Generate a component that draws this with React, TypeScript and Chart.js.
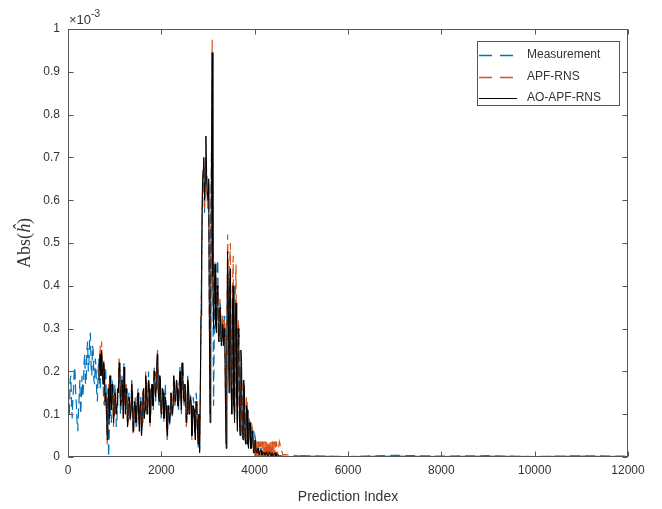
import React, { useEffect, useRef } from 'react';
import { Chart, registerables } from 'chart.js';

Chart.register(...registerables);

// Prediction-index spacing of the sampled series
const STEP = 15;

// All values in units of 1e-3 (the axis carries the "×10^-3" multiplier)
const measurementStart = 0;
const measurement = [
  0.17, 0.12, 0.10, 0.18, 0.19, 0.13, 0.09, 0.14, 0.16, 0.21, 0.20, 0.15, 0.12, 0.08, 0.06, 0.11, 0.14, 0.18, 0.10, 0.13,
  0.19, 0.14, 0.16, 0.22, 0.24, 0.17, 0.18, 0.25, 0.27, 0.20, 0.22, 0.28, 0.29, 0.21, 0.19, 0.26, 0.25, 0.18, 0.17, 0.23,
  0.21, 0.15, 0.13, 0.20, 0.23, 0.17, 0.16, 0.24, 0.25, 0.19, 0.18, 0.13, 0.12, 0.21, 0.20, 0.11, 0.09, 0.16, 0.00, 0.06,
  0.15, 0.10, 0.08, 0.18, 0.16, 0.11, 0.12, 0.17, 0.15, 0.07, 0.09, 0.14, 0.16, 0.21, 0.20, 0.10, 0.12, 0.19, 0.17, 0.11,
  0.22, 0.16, 0.12, 0.17, 0.15, 0.08, 0.10, 0.15, 0.13, 0.10, 0.12, 0.18, 0.16, 0.06, 0.08, 0.13, 0.14, 0.09, 0.07, 0.12,
  0.16, 0.11, 0.07, 0.12, 0.14, 0.05, 0.08, 0.14, 0.13, 0.09, 0.11, 0.18, 0.16, 0.10, 0.12, 0.20, 0.17, 0.08, 0.10, 0.15,
  0.17, 0.12, 0.11, 0.21, 0.19, 0.13, 0.15, 0.23, 0.25, 0.16, 0.12, 0.19, 0.18, 0.09, 0.11, 0.16, 0.15, 0.10, 0.12, 0.17,
  0.13, 0.07, 0.04, 0.11, 0.10, 0.07, 0.09, 0.15, 0.13, 0.09, 0.12, 0.19, 0.17, 0.12, 0.14, 0.18, 0.16, 0.13, 0.11, 0.17,
  0.21, 0.15, 0.10, 0.22, 0.20, 0.14, 0.12, 0.17, 0.15, 0.07, 0.09, 0.19, 0.17, 0.11, 0.13, 0.15, 0.12, 0.05, 0.08, 0.14,
  0.12, 0.07, 0.04, 0.15, 0.13, 0.06, 0.02, 0.10, 0.01, 0.15, 0.32, 0.45, 0.60, 0.66, 0.68, 0.57, 0.62, 0.70, 0.67, 0.60,
  0.58, 0.64, 0.35, 0.10, 0.55, 0.70, 0.88, 0.40, 0.12, 0.30, 0.42, 0.33, 0.30, 0.45, 0.46, 0.31, 0.28, 0.36, 0.35, 0.27,
  0.30, 0.33, 0.26, 0.31, 0.33, 0.15, 0.03, 0.25, 0.46, 0.38, 0.20, 0.42, 0.40, 0.18, 0.12, 0.33, 0.36, 0.15, 0.10, 0.28,
  0.30, 0.14, 0.08, 0.27, 0.25, 0.09, 0.05, 0.21, 0.19, 0.06, 0.07, 0.16, 0.15, 0.05, 0.03, 0.12, 0.11, 0.03, 0.04, 0.09,
  0.08, 0.03, 0.02, 0.07, 0.06, 0.01, 0.01, 0.05, 0.04, 0.01, 0.01, 0.03, 0.03, 0.00, 0.00, 0.02, 0.02, 0.00, 0.01, 0.01,
  0.01, 0.00, 0.00, 0.01, 0.01, 0.00, 0.00, 0.01, 0.01, 0.00, 0.00, 0.005, 0.005, 0.00, 0.00, 0.01, 0.01, 0.00, 0.00, 0.005,
];

const filterStart = 660;
const apfRns = [
  0.19, 0.23, 0.26, 0.19, 0.27, 0.21, 0.17, 0.23, 0.20, 0.12, 0.15, 0.10, 0.03, 0.12, 0.17, 0.09,
  0.19, 0.13, 0.11, 0.17, 0.15, 0.07, 0.10, 0.15, 0.14, 0.10, 0.12, 0.16, 0.15, 0.23, 0.21, 0.12, 0.13, 0.18, 0.16, 0.09,
  0.21, 0.15, 0.10, 0.17, 0.15, 0.07, 0.09, 0.14, 0.13, 0.08, 0.11, 0.17, 0.15, 0.05, 0.08, 0.13, 0.12, 0.08, 0.09, 0.14,
  0.15, 0.10, 0.06, 0.12, 0.13, 0.05, 0.08, 0.15, 0.16, 0.09, 0.11, 0.20, 0.17, 0.10, 0.12, 0.18, 0.16, 0.07, 0.10, 0.15,
  0.17, 0.12, 0.12, 0.21, 0.19, 0.14, 0.16, 0.23, 0.25, 0.15, 0.13, 0.19, 0.18, 0.10, 0.11, 0.16, 0.15, 0.08, 0.11, 0.14,
  0.12, 0.06, 0.04, 0.12, 0.11, 0.08, 0.10, 0.15, 0.14, 0.10, 0.12, 0.19, 0.17, 0.13, 0.14, 0.18, 0.16, 0.12, 0.12, 0.17,
  0.20, 0.15, 0.11, 0.22, 0.19, 0.14, 0.13, 0.17, 0.15, 0.07, 0.10, 0.18, 0.17, 0.10, 0.12, 0.14, 0.12, 0.04, 0.08, 0.12,
  0.11, 0.06, 0.04, 0.13, 0.12, 0.06, 0.03, 0.10, 0.01, 0.14, 0.31, 0.46, 0.61, 0.66, 0.69, 0.58, 0.62, 0.70, 0.64, 0.60,
  0.58, 0.63, 0.32, 0.10, 0.36, 0.72, 0.975, 0.44, 0.32, 0.40, 0.46, 0.33, 0.30, 0.42, 0.40, 0.28, 0.28, 0.37, 0.33, 0.27,
  0.30, 0.33, 0.27, 0.32, 0.30, 0.13, 0.03, 0.27, 0.52, 0.40, 0.18, 0.45, 0.50, 0.17, 0.13, 0.40, 0.47, 0.14, 0.10, 0.38,
  0.45, 0.16, 0.07, 0.32, 0.30, 0.09, 0.06, 0.20, 0.19, 0.06, 0.05, 0.17, 0.16, 0.05, 0.04, 0.14, 0.13, 0.04, 0.03, 0.09,
  0.08, 0.03, 0.03, 0.07, 0.06, 0.01, 0.037, 0.00, 0.037, 0.00, 0.036, 0.00, 0.037, 0.00, 0.036, 0.00, 0.037, 0.00, 0.036, 0.00,
  0.037, 0.00, 0.036, 0.00, 0.037, 0.00, 0.036, 0.00, 0.037, 0.00, 0.036, 0.00, 0.037, 0.00, 0.036, 0.00, 0.037, 0.00, 0.036, 0.00,
];

const aoApfRns = [
  0.18, 0.22, 0.24, 0.19, 0.25, 0.21, 0.17, 0.22, 0.20, 0.13, 0.15, 0.10, 0.04, 0.12, 0.16, 0.09,
  0.19, 0.13, 0.11, 0.17, 0.15, 0.08, 0.10, 0.15, 0.14, 0.10, 0.12, 0.16, 0.15, 0.22, 0.20, 0.12, 0.13, 0.18, 0.16, 0.09,
  0.21, 0.15, 0.10, 0.16, 0.15, 0.07, 0.09, 0.14, 0.13, 0.09, 0.11, 0.17, 0.15, 0.06, 0.08, 0.13, 0.12, 0.08, 0.09, 0.14,
  0.15, 0.10, 0.06, 0.12, 0.13, 0.05, 0.08, 0.15, 0.16, 0.09, 0.11, 0.19, 0.17, 0.10, 0.12, 0.18, 0.16, 0.08, 0.10, 0.15,
  0.17, 0.12, 0.12, 0.20, 0.19, 0.14, 0.16, 0.22, 0.24, 0.15, 0.13, 0.19, 0.18, 0.10, 0.11, 0.16, 0.15, 0.09, 0.11, 0.14,
  0.12, 0.07, 0.05, 0.12, 0.11, 0.08, 0.10, 0.15, 0.14, 0.10, 0.12, 0.19, 0.17, 0.13, 0.14, 0.18, 0.16, 0.12, 0.12, 0.17,
  0.20, 0.15, 0.11, 0.22, 0.19, 0.14, 0.13, 0.17, 0.15, 0.08, 0.10, 0.18, 0.17, 0.10, 0.12, 0.14, 0.12, 0.05, 0.08, 0.12,
  0.11, 0.06, 0.04, 0.13, 0.12, 0.06, 0.03, 0.10, 0.01, 0.15, 0.33, 0.48, 0.63, 0.67, 0.70, 0.60, 0.64, 0.75, 0.66, 0.62,
  0.60, 0.65, 0.30, 0.08, 0.35, 0.70, 0.945, 0.42, 0.30, 0.38, 0.45, 0.31, 0.29, 0.40, 0.38, 0.27, 0.27, 0.35, 0.32, 0.26,
  0.28, 0.31, 0.26, 0.30, 0.28, 0.12, 0.02, 0.25, 0.48, 0.36, 0.15, 0.40, 0.44, 0.16, 0.10, 0.35, 0.40, 0.12, 0.08, 0.33,
  0.36, 0.14, 0.06, 0.30, 0.28, 0.08, 0.05, 0.25, 0.22, 0.05, 0.04, 0.18, 0.16, 0.04, 0.03, 0.12, 0.11, 0.03, 0.02, 0.08,
  0.08, 0.02, 0.02, 0.06, 0.05, 0.01, 0.01, 0.04, 0.03, 0.01, 0.01, 0.02, 0.02, 0.005, 0.005, 0.015, 0.015, 0.005, 0.005, 0.01,
  0.01, 0.005, 0.004, 0.012, 0.01, 0.003, 0.004, 0.01, 0.012, 0.004, 0.003, 0.01, 0.01, 0.003, 0.003, 0.008, 0.01, 0.002, 0.003, 0.006,
];

// Sparse tail (index > 4500), everything is practically zero there
const tailIndex = [4530, 4600, 4700, 5000, 6000, 7000, 8000, 9000, 10000, 11000, 12000];
const measurementTail = [0.000, 0.004, 0.000, 0.003, 0.001, 0.004, 0.002, 0.003, 0.001, 0.003, 0.002];
const apfTail = [0.036, 0.006, 0.005, 0.002, 0.001, 0.002, 0.001, 0.002, 0.001, 0.002, 0.001];
const aoTail = [0.003, 0.002, 0.001, 0.001, 0.001, 0.001, 0.001, 0.001, 0.001, 0.001, 0.001];

const xTicks = [0, 2000, 4000, 6000, 8000, 10000, 12000];
const yTicks = [0, 0.1, 0.2, 0.3, 0.4, 0.5, 0.6, 0.7, 0.8, 0.9, 1];

const seriesNames = ['Measurement', 'APF-RNS', 'AO-APF-RNS'];
const seriesColors = ['#0072BD', '#D95319', '#000000'];
const DASH = [10, 5];

function toPoints(start: number, vals: number[], tIdx: number[], tVals: number[]) {
  const pts = vals.map((v, i) => ({ x: start + i * STEP, y: v }));
  tIdx.forEach((x, i) => pts.push({ x, y: tVals[i] }));
  return pts;
}

const FONT = "'Liberation Sans', Arial, sans-serif";
const TEXT = '#333333';

const matlabFrame = {
  id: 'matlabFrame',
  afterDatasetsDraw(chart: any) {
    const { ctx, chartArea: a, scales } = chart;
    const L = Math.round(a.left) + 0.5;
    const R = Math.round(a.right) - 0.5;
    const T = Math.round(a.top) + 0.5;
    const B = Math.round(a.bottom) - 0.5;
    ctx.save();
    ctx.strokeStyle = '#555555';
    ctx.lineWidth = 1;
    ctx.setLineDash([]);
    ctx.strokeRect(L, T, R - L, B - T);
    const tl = 5;
    ctx.beginPath();
    xTicks.forEach((v) => {
      const px = Math.round(scales.x.getPixelForValue(v)) + 0.5;
      ctx.moveTo(px, B); ctx.lineTo(px, B - tl);
      ctx.moveTo(px, T); ctx.lineTo(px, T + tl);
    });
    yTicks.forEach((v) => {
      const py = Math.round(scales.y.getPixelForValue(v)) + 0.5;
      ctx.moveTo(L, py); ctx.lineTo(L + tl, py);
      ctx.moveTo(R, py); ctx.lineTo(R - tl, py);
    });
    ctx.stroke();

    // exponent label
    ctx.fillStyle = TEXT;
    ctx.textBaseline = 'alphabetic';
    ctx.textAlign = 'left';
    ctx.font = `13px ${FONT}`;
    const base = '\u00d710';
    ctx.fillText(base, a.left + 1, a.top - 5);
    const w = ctx.measureText(base).width;
    ctx.font = `10px ${FONT}`;
    ctx.fillText('-3', a.left + 1 + w, a.top - 12);

    // x title
    ctx.font = `14px ${FONT}`;
    ctx.textAlign = 'center';
    ctx.textBaseline = 'middle';
    ctx.fillText('Prediction Index', (a.left + a.right) / 2, 497);

    // y title (serif, italic h with hat)
    ctx.save();
    ctx.translate(25, (a.top + a.bottom) / 2);
    ctx.rotate(-Math.PI / 2);
    const serif = "'Liberation Serif', 'DejaVu Serif', serif";
    const p1 = 'Abs(';
    const p2 = '\u0125';
    const p3 = ')';
    const fs = 18;
    ctx.font = `${fs}px ${serif}`;
    const w1 = ctx.measureText(p1).width;
    const w3 = ctx.measureText(p3).width;
    ctx.font = `italic ${fs}px ${serif}`;
    const w2 = ctx.measureText(p2).width;
    const total = w1 + w2 + w3;
    let x0 = -total / 2;
    ctx.textAlign = 'left';
    ctx.font = `${fs}px ${serif}`;
    ctx.fillText(p1, x0, 0);
    x0 += w1;
    ctx.font = `italic ${fs}px ${serif}`;
    ctx.fillText(p2, x0, 0);
    x0 += w2;
    ctx.font = `${fs}px ${serif}`;
    ctx.fillText(p3, x0, 0);
    ctx.restore();

    // legend
    const lx = 477.5, ly = 41.5, lw = 142, lh = 64;
    ctx.fillStyle = '#ffffff';
    ctx.fillRect(lx, ly, lw, lh);
    ctx.strokeStyle = '#555555';
    ctx.lineWidth = 1;
    ctx.strokeRect(lx, ly, lw, lh);
    ctx.font = `12px ${FONT}`;
    ctx.textBaseline = 'middle';
    ctx.textAlign = 'left';
    const rows = [55, 77, 98];
    seriesNames.forEach((name, i) => {
      const y = rows[i] + 0.5;
      ctx.strokeStyle = seriesColors[i];
      ctx.lineWidth = i < 2 ? 1.5 : 1;
      ctx.setLineDash(i < 2 ? [13, 8] : []);
      ctx.beginPath();
      ctx.moveTo(479, y);
      ctx.lineTo(517, y);
      ctx.stroke();
      ctx.setLineDash([]);
      ctx.fillStyle = TEXT;
      ctx.fillText(name, 527, rows[i]);
    });
    ctx.restore();
  },
};

export default function App() {
  const ref = useRef<HTMLCanvasElement | null>(null);
  useEffect(() => {
    if (!ref.current) return;
    const chart = new Chart(ref.current, {
      type: 'line',
      data: {
        datasets: [
          {
            label: seriesNames[2],
            data: toPoints(filterStart, aoApfRns, tailIndex, aoTail),
            borderColor: seriesColors[2],
            borderWidth: 1,
            pointRadius: 0,
            tension: 0,
            order: 1,
          },
          {
            label: seriesNames[1],
            data: toPoints(filterStart, apfRns, tailIndex, apfTail),
            borderColor: seriesColors[1],
            borderWidth: 1.2,
            borderDash: DASH,
            pointRadius: 0,
            tension: 0,
            order: 2,
          },
          {
            label: seriesNames[0],
            data: toPoints(measurementStart, measurement, tailIndex, measurementTail),
            borderColor: seriesColors[0],
            borderWidth: 1.2,
            borderDash: DASH,
            pointRadius: 0,
            tension: 0,
            order: 3,
          },
        ],
      },
      options: {
        responsive: false,
        animation: false,
        events: [],
        layout: { padding: { top: 29, right: 34, left: 0, bottom: 0 } },
        plugins: { legend: { display: false }, tooltip: { enabled: false }, title: { display: false } },
        scales: {
          x: {
            type: 'linear',
            min: 0,
            max: 12000,
            afterBuildTicks: (s: any) => { s.ticks = xTicks.map((v) => ({ value: v })); },
            afterFit: (s: any) => { s.height = 52; },
            ticks: {
              color: TEXT,
              font: { family: FONT, size: 12 },
              padding: 6,
              maxRotation: 0,
              autoSkip: false,
              callback: (v: any) => String(v),
            },
            grid: { display: false, drawTicks: false },
            border: { display: false },
          },
          y: {
            type: 'linear',
            min: 0,
            max: 1,
            afterBuildTicks: (s: any) => { s.ticks = yTicks.map((v) => ({ value: v })); },
            afterFit: (s: any) => { s.width = 68; },
            ticks: {
              color: TEXT,
              font: { family: FONT, size: 12 },
              padding: 8,
              autoSkip: false,
              callback: (v: any) => String(Math.round(Number(v) * 10) / 10),
            },
            grid: { display: false, drawTicks: false },
            border: { display: false },
          },
        },
      },
      plugins: [matlabFrame],
    });
    return () => chart.destroy();
  }, []);
  return (
    <div style={{ position: 'fixed', left: 0, top: 0, width: 662, height: 509, background: '#fff' }}>
      <canvas ref={ref} width={662} height={509} />
    </div>
  );
}
